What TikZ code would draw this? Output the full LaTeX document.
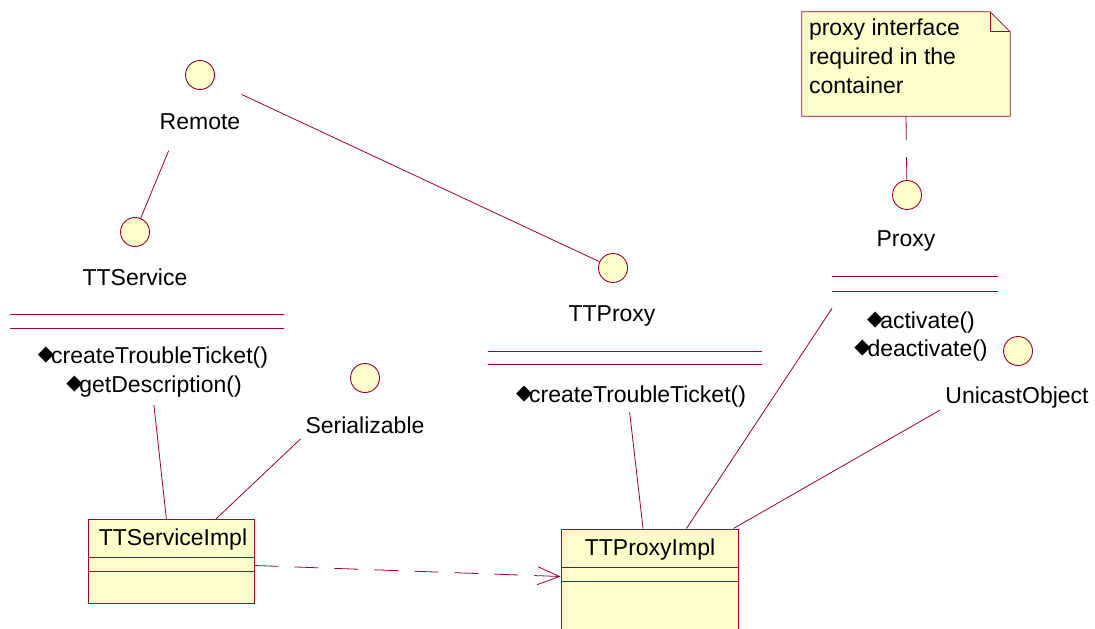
\documentclass[tikz,border=0pt]{standalone}
\usepackage{fontspec}
\setmainfont{Liberation Sans}
\newfontfamily\symfont{DejaVu Sans}
\usetikzlibrary{arrows.meta}
\usetikzlibrary{calc}
\usetikzlibrary{positioning}
\definecolor{umlred}{RGB}{153,0,51}
\definecolor{umlfill}{RGB}{255,255,204}
\tikzstyle{iface} = [draw=umlred, fill=umlfill, circle, minimum size=29pt,
    inner sep=0pt, line width=0.9pt]
\tikzstyle{ifname} = [inner sep=1pt]
\tikzstyle{opline} = [inner sep=1pt]
\tikzstyle{cls} = [draw=umlred, fill=umlfill, rectangle, inner sep=0pt,
    line width=1pt]
\tikzstyle{compart} = [draw=umlred, line width=0.9pt]
\tikzstyle{assoc} = [draw=umlred, line width=0.8pt]
\newcommand{\opmark}{{\symfont\fontsize{21}{21}\selectfont\raisebox{3pt}{◆}}\hspace{-3pt}}

\begin{document}
\begin{tikzpicture}[x=1pt, y=-1pt, font=\fontsize{23}{27}\selectfont]
    \useasboundingbox (0,0) rectangle (1095,629);
    \clip (0,0) rectangle (1095,629);
    % interfaces
    \node [iface] (remote) at (200,75) {};
    \node [ifname] (remote-lbl) at (200,122) {Remote};
    \node [iface] (ttservice) at (135,232) {};
    \node [ifname] (ttservice-lbl) at (135,277) {TTService};
    \node [iface] (serial) at (365,378) {};
    \node [ifname] (serial-lbl) at (365,425) {Serializable};
    \node [iface] (ttproxy) at (613,268) {};
    \node [ifname] (ttproxy-lbl) at (612,316) {TTProxy};
    \node [iface] (proxy) at (907,195) {};
    \node [ifname] (proxy-lbl) at (906,241) {Proxy};
    \node [iface] (unicast) at (1018,351) {};
    \node [ifname] (unicast-lbl) at (1017,398) {UnicastObject};
    % operations of the interfaces
    \draw [compart] (10,314) -- (284,314);
    \draw [compart] (10,328) -- (284,328);
    \node [opline] (svc-op1) at (153,358) {\opmark createTroubleTicket()};
    \node [opline] (svc-op2) at (154,387) {\opmark getDescription()};
    \draw [compart] (488,351) -- (762,351);
    \draw [compart] (488,364) -- (762,364);
    \node [opline] (tp-op1) at (631,397) {\opmark createTroubleTicket()};
    \draw [compart] (832,276) -- (998,276);
    \draw [compart] (832,291) -- (998,291);
    \node [opline] (px-op1) at (921,323) {\opmark activate()};
    \node [opline] (px-op2) at (921,351) {\opmark deactivate()};
    % implementation classes
    \node [cls, minimum width=166pt, minimum height=84pt] (svcimpl) at (171,561.5) {};
    \node (svcimpl-name) at (173,540) {TTServiceImpl};
    \draw [compart] ($(svcimpl.north west)+(0,38)$) -- ($(svcimpl.north east)+(0,38)$);
    \draw [compart] ($(svcimpl.north west)+(0,52)$) -- ($(svcimpl.north east)+(0,52)$);
    \node [cls, minimum width=177pt, minimum height=111pt] (proxyimpl) at (649.5,584.5) {};
    \node (proxyimpl-name) at (650,550) {TTProxyImpl};
    \draw [compart] ($(proxyimpl.north west)+(0,39)$) -- ($(proxyimpl.north east)+(0,39)$);
    \draw [compart] ($(proxyimpl.north west)+(0,53)$) -- ($(proxyimpl.north east)+(0,53)$);
    % note
    \node [minimum width=208pt, minimum height=104pt] (note) at (906,64) {};
    \draw [assoc, fill=umlfill] (note.north west) -- ($(note.north east)+(-20,0)$)
        -- ($(note.north east)+(0,20)$) -- (note.south east) -- (note.south west) -- cycle;
    \draw [assoc] ($(note.north east)+(-20,0)$) -- ($(note.north east)+(-20,20)$)
        -- ($(note.north east)+(0,20)$);
    \node [anchor=north west, align=left, inner sep=0pt, font=\fontsize{23}{29}\selectfont]
        (note-txt) at ($(note.north west)+(7,7)$) {proxy interface\\required in the\\container};
    % connectors
    \draw [assoc, shorten <=67pt] (remote) -- (ttservice);
    \draw [assoc, shorten <=31pt] (remote) -- (ttproxy);
    \draw [assoc, shorten <=159pt] (ttservice) -- (svcimpl);
    \draw [assoc, shorten <=74pt] (serial) -- (svcimpl);
    \draw [assoc, shorten <=130pt] (ttproxy) -- (proxyimpl);
    \draw [assoc, shorten <=121pt] (proxy) -- (proxyimpl);
    \draw [assoc] ($(unicast-lbl.west)+(-4,12)$) -- ($(proxyimpl.north east)+(-5,0)$);
    \draw [assoc, dash pattern=on 24pt off 17pt] (note.south) -- (proxy);
    \draw [assoc, dash pattern=on 24pt off 16pt, -{Straight Barb[length=22pt,width=18pt]}]
        ($(svcimpl.east)+(0,4)$) -- ($(proxyimpl.north west)+(0,48)$);
\end{tikzpicture}
\end{document}
